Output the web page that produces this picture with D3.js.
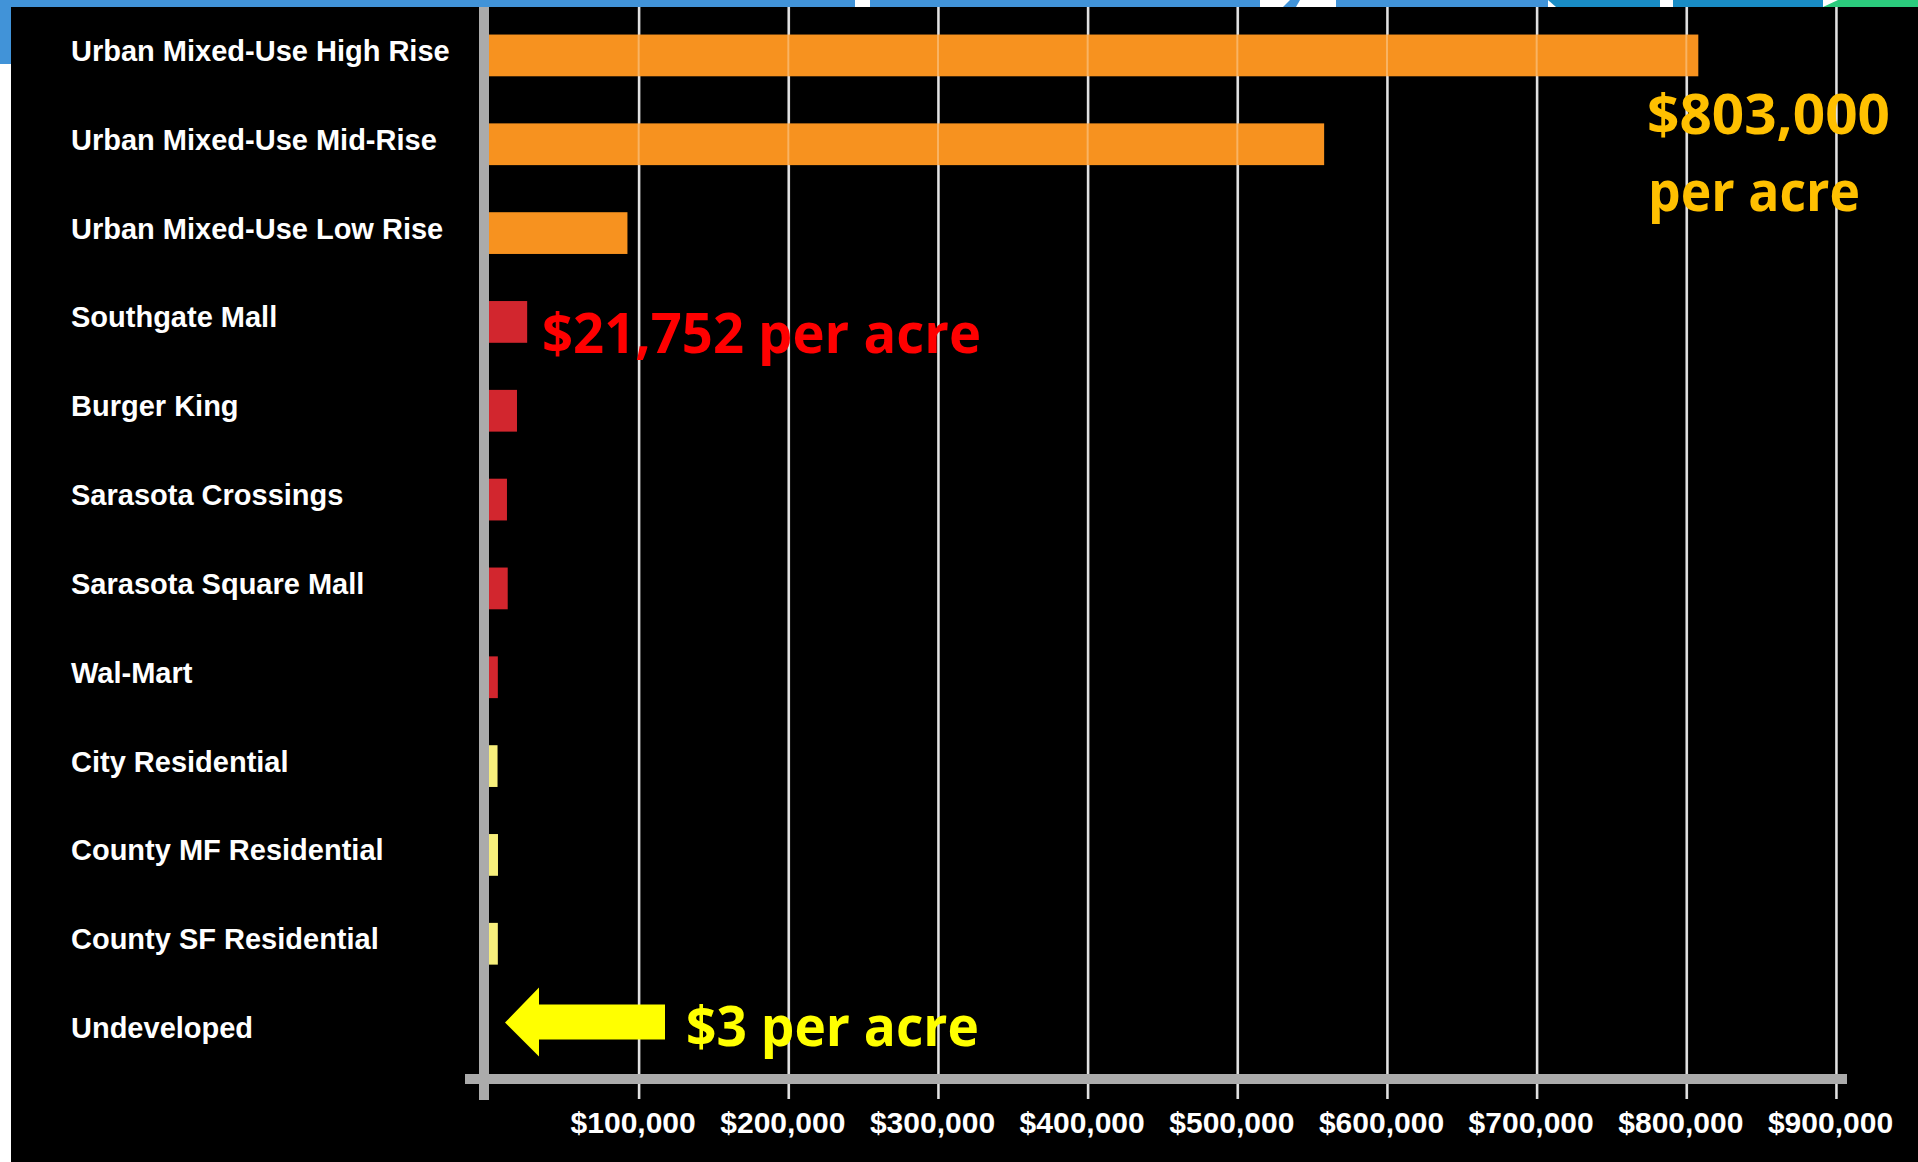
<!DOCTYPE html>
<html>
<head>
<meta charset="utf-8">
<script src="https://cdn.jsdelivr.net/npm/d3@7"></script>
<style>
  html, body { margin: 0; padding: 0; background: #fff; overflow: hidden; }
  svg { display: block; }
</style>
</head>
<body>
<svg id="chart"></svg>
<script>
// land uses, top to bottom
const categories = [
  "Urban Mixed-Use High Rise",
  "Urban Mixed-Use Mid-Rise",
  "Urban Mixed-Use Low Rise",
  "Southgate Mall",
  "Burger King",
  "Sarasota Crossings",
  "Sarasota Square Mall",
  "Wal-Mart",
  "City Residential",
  "County MF Residential",
  "County SF Residential",
  "Undeveloped"
]
// value per acre
const values = [808000, 558000, 92500, 25500, 18700, 12000, 12500, 5900, 5700, 6000, 5900, 3]
// which colour group each bar is in
const groups = ["mixed", "mixed", "mixed", "retail", "retail", "retail", "retail", "retail",
                "resid", "resid", "resid", "resid"]
const tickValues = [100000, 200000, 300000, 400000, 500000, 600000, 700000, 800000, 900000]
const tickLabels = ["$100,000", "$200,000", "$300,000", "$400,000", "$500,000",
                    "$600,000", "$700,000", "$800,000", "$900,000"]

const width = 1918
const height = 1162

const barColor = { mixed: "#f7921f", retail: "#d2262e", resid: "#f7ef7c" }

const svg = d3.select("#chart").attr("width", width).attr("height", height)

// slide frame: white page, blue strip top/left, black panel
svg.append("rect").attr("width", width).attr("height", height).attr("fill", "#ffffff")
svg.append("rect").attr("x", 0).attr("y", 0).attr("width", 11).attr("height", 64).attr("fill", "#4193d8")
svg.append("rect").attr("x", 11).attr("y", 7).attr("width", width - 11).attr("height", height - 7).attr("fill", "#000000")

// header bits along the top edge
const header = svg.append("g")
header.append("rect").attr("x", 0).attr("y", 0).attr("width", 855).attr("height", 7).attr("fill", "#4193d8")
header.append("rect").attr("x", 870).attr("y", 0).attr("width", 390).attr("height", 7).attr("fill", "#4193d8")
header.append("path").attr("d", "M1283,7 L1290,0 L1300,0 L1296,7 Z").attr("fill", "#4193d8")
header.append("rect").attr("x", 1336).attr("y", 0).attr("width", 212).attr("height", 7).attr("fill", "#4193d8")
header.append("path").attr("d", "M1548,0 L1660,0 L1660,7 L1556,7 Z").attr("fill", "#198cc5")
header.append("rect").attr("x", 1673).attr("y", 0).attr("width", 150).attr("height", 7).attr("fill", "#198cc5")
header.append("path").attr("d", "M1823,7 L1838,0 L1918,0 L1918,7 Z").attr("fill", "#2bcb7d")

// scales
const x = d3.scaleLinear().domain([0, 900000]).range([489, 1836])
const y = d3.scaleBand().domain(categories).range([11, 1077]).paddingInner(0.53).paddingOuter(0.265)

const plotTop = 7
const plotBottom = 1099

// grid + tick labels from an axis
const xAxis = d3.axisBottom(x)
  .tickValues(tickValues)
  .tickFormat((d, i) => tickLabels[i])
  .tickSize(-(plotBottom - plotTop))
  .tickPadding(13)

const gx = svg.append("g")
  .attr("transform", `translate(0,${plotBottom})`)
  .call(xAxis)
gx.select(".domain").remove()
gx.selectAll(".tick line").attr("stroke", "#d6d6d6").attr("stroke-width", 2.5)
gx.selectAll(".tick text")
  .attr("fill", "#ffffff")
  .attr("dx", -6)
  .style("font-family", "'Liberation Sans', Arial, sans-serif")
  .style("font-weight", "bold")
  .style("font-size", "30px")

// bars
svg.append("g").selectAll("rect")
  .data(categories)
  .join("rect")
  .attr("x", x(0))
  .attr("y", d => y(d))
  .attr("width", (d, i) => x(values[i]) - x(0))
  .attr("height", y.bandwidth())
  .attr("fill", (d, i) => barColor[groups[i]])

// grid shows faintly through the bars
svg.append("g").selectAll("line")
  .data(tickValues)
  .join("line")
  .attr("x1", d => x(d)).attr("x2", d => x(d))
  .attr("y1", plotTop).attr("y2", plotBottom)
  .attr("stroke", "#ffffff").attr("stroke-opacity", 0.3).attr("stroke-width", 2)

// axis lines
svg.append("line")
  .attr("x1", x(0) - 5).attr("x2", x(0) - 5)
  .attr("y1", plotTop).attr("y2", plotBottom + 1)
  .attr("stroke", "#ababab").attr("stroke-width", 10)
svg.append("line")
  .attr("x1", 465).attr("x2", 1847)
  .attr("y1", 1079).attr("y2", 1079)
  .attr("stroke", "#ababab").attr("stroke-width", 10)

// category labels
svg.append("g").selectAll("text")
  .data(categories)
  .join("text")
  .attr("x", 71)
  .attr("y", d => y(d) + y.bandwidth() / 2 - 5)
  .attr("dy", "0.36em")
  .attr("fill", "#ffffff")
  .style("font-family", "'Liberation Sans', Arial, sans-serif")
  .style("font-weight", "bold")
  .style("font-size", "29px")
  .text(d => d)

// callouts
const callFont = "'Open Sans', 'Noto Sans', sans-serif"

function callout(txt, cx, cy, color, len) {
  svg.append("text")
    .attr("x", cx).attr("y", cy)
    .attr("fill", color)
    .attr("textLength", len)
    .attr("lengthAdjust", "spacingAndGlyphs")
    .style("font-family", callFont).style("font-weight", "bold").style("font-size", "56px")
    .text(txt)
}

callout("$803,000", 1647, 134, "#ffc000", 243)
callout("per acre", 1648, 211, "#ffc000", 212)

const mall = categories[3]
callout("$21,752 per acre", 542, y(mall) + y.bandwidth() / 2 + 31, "#ff0000", 439)

// arrow pointing at the undeveloped row
const undev = categories[11]
const ay = y(undev) + y.bandwidth() / 2 - 10
svg.append("path")
  .attr("d", `M505,${ay} L539,${ay - 35} L539,${ay - 18} L665,${ay - 18} L665,${ay + 17} L539,${ay + 17} L539,${ay + 34} Z`)
  .attr("fill", "#ffff00")
callout("$3 per acre", 686, ay + 23, "#ffff00", 293)
</script>
</body>
</html>
